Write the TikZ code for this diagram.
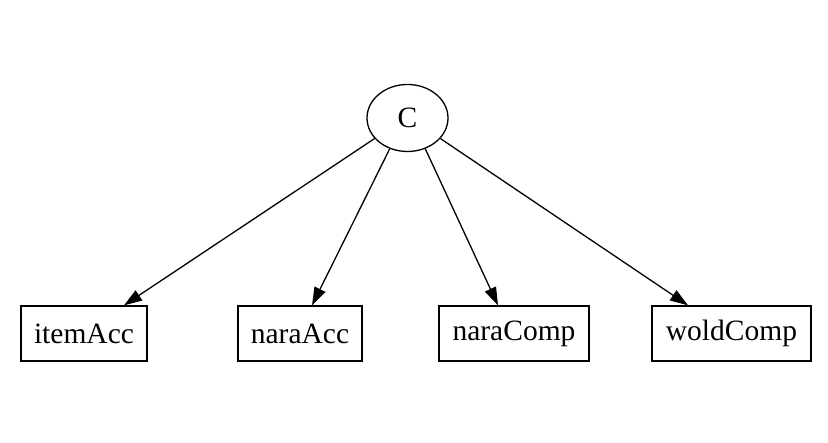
\documentclass[tikz,border=0pt]{standalone}
\usepackage{fontspec}
\setmainfont{Liberation Serif}
\usetikzlibrary{arrows.meta,shapes.geometric}
\begin{document}
\begin{tikzpicture}[x=1pt,y=1pt,
  every node/.style={font=\fontsize{29.5}{32}\selectfont, inner sep=0pt, line width=1.3pt},
  boxnode/.style={draw, rectangle, minimum height=55pt},
  ellnode/.style={draw, ellipse, minimum width=81pt, minimum height=67pt},
  arr/.style={line width=1.3pt, -{Triangle[length=18pt,width=12pt]}}]
\useasboundingbox (0,0) rectangle (828,443);
\node[ellnode] (C) at (407.5,325) {C};
\node[boxnode, minimum width=126pt] (itemAcc) at (84,109.5) {itemAcc};
\node[boxnode, minimum width=124pt] (naraAcc) at (300,109.5) {naraAcc};
\node[boxnode, minimum width=150pt] (naraComp) at (514,109.5) {naraComp};
\node[boxnode, minimum width=159pt] (woldComp) at (731.5,109.5) {woldComp};
\draw[arr] (C.212) -- ([xshift=40pt]itemAcc.north);
\draw[arr] (C.240) -- ([xshift=12pt]naraAcc.north);
\draw[arr] (C.300) -- ([xshift=-16pt]naraComp.north);
\draw[arr] (C.328) -- ([xshift=-43.5pt]woldComp.north);
\end{tikzpicture}
\end{document}
